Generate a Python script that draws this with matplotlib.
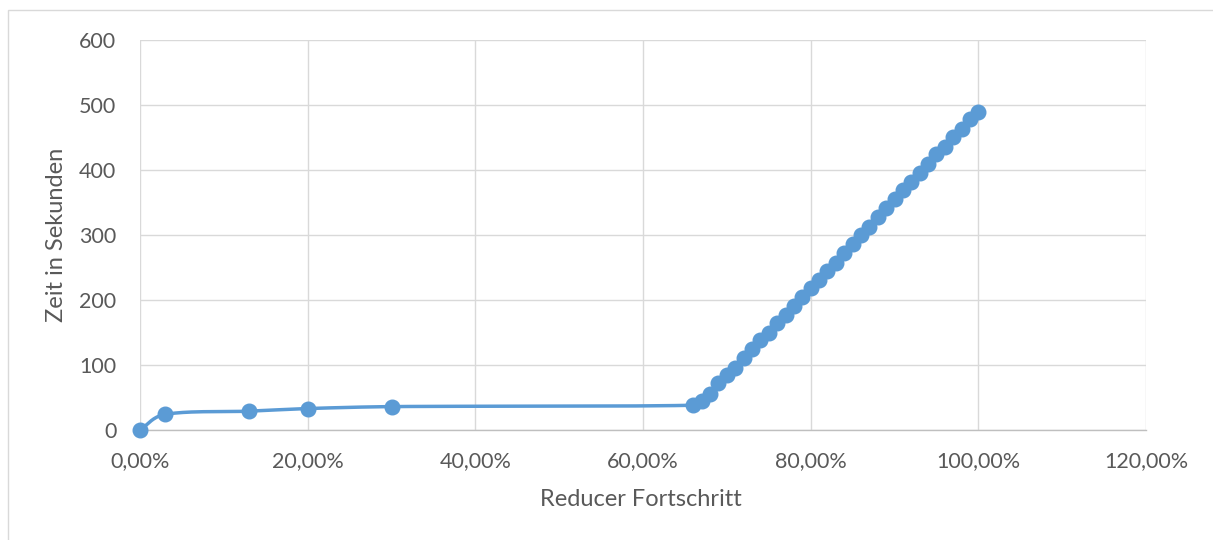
import numpy as np
import matplotlib
matplotlib.use("Agg")
import matplotlib.pyplot as plt
from matplotlib.ticker import FuncFormatter
from matplotlib.patches import Rectangle

# Reducer progress (fraction) and elapsed time in seconds
progress = [0.00, 0.03, 0.13, 0.20, 0.30,
            0.66, 0.67, 0.68, 0.69, 0.70, 0.71, 0.72, 0.73, 0.74, 0.75,
            0.76, 0.77, 0.78, 0.79, 0.80, 0.81, 0.82, 0.83, 0.84, 0.85,
            0.86, 0.87, 0.88, 0.89, 0.90, 0.91, 0.92, 0.93, 0.94, 0.95,
            0.96, 0.97, 0.98, 0.99, 1.00]
seconds = [0, 24, 29, 33, 36,
           38, 44, 56, 72, 85, 96, 111, 124, 138, 150,
           164, 177, 191, 204, 218, 231, 245, 257, 273, 286,
           300, 313, 328, 341, 355, 369, 382, 396, 410, 425,
           436, 451, 463, 478, 490]

x_ticks = [0.0, 0.2, 0.4, 0.6, 0.8, 1.0, 1.2]
y_ticks = [0, 100, 200, 300, 400, 500, 600]

LINE = "#5B9BD5"
TEXT = "#595959"
GRID = "#D9D9D9"


def smooth(xs, ys, n=30, tension=0.45):
    """Smoothed line through the points (cubic Bezier with chord-scaled tangents)."""
    sx, sy = 1.2, 600.0
    P = np.column_stack([np.asarray(xs, float) / sx, np.asarray(ys, float) / sy])
    N = len(P)
    tang = np.zeros_like(P)
    for i in range(N):
        a = P[max(i - 1, 0)]
        b = P[min(i + 1, N - 1)]
        d = b - a
        nrm = np.linalg.norm(d)
        tang[i] = d / nrm if nrm > 0 else 0
    t = np.linspace(0, 1, n, endpoint=False)[:, None]
    out = []
    for i in range(N - 1):
        p0, p3 = P[i], P[i + 1]
        L = np.linalg.norm(p3 - p0) * tension * 2 / 3
        p1 = p0 + tang[i] * L
        p2 = p3 - tang[i + 1] * L
        seg = ((1 - t) ** 3 * p0 + 3 * (1 - t) ** 2 * t * p1
               + 3 * (1 - t) * t ** 2 * p2 + t ** 3 * p3)
        out.append(seg)
    out.append(P[-1][None, :])
    C = np.vstack(out)
    return C[:, 0] * sx, C[:, 1] * sy


plt.rcParams["font.family"] = ["Lato", "DejaVu Sans"]

fig = plt.figure(figsize=(12.13, 5.40), dpi=100)
W, H = 1213, 540
ax = fig.add_axes([140 / W, 1 - 430 / H, (1146 - 140) / W, (430 - 40) / H])

# chart frame
fig.patches.append(Rectangle((8 / W, -0.01), 1.0, 1 - 10 / H + 0.01,
                             transform=fig.transFigure, fill=False,
                             edgecolor="#D9D9D9", linewidth=1.0))

cx, cy = smooth(progress, seconds)
ax.plot(cx, cy, color=LINE, linewidth=2.5, solid_capstyle="round", zorder=3)
ax.plot(progress, seconds, linestyle="none", marker="o", markersize=10.5,
        color=LINE, zorder=4, clip_on=False)

ax.set_xlim(0, 1.2)
ax.set_ylim(0, 600)
ax.set_xticks(x_ticks)
ax.set_yticks(y_ticks)
ax.xaxis.set_major_formatter(FuncFormatter(
    lambda v, _: f"{v * 100:.2f}%".replace(".", ",")))

ax.grid(True, color=GRID, linewidth=1.0)
ax.set_axisbelow(True)
for side in ("top", "right", "left"):
    ax.spines[side].set_visible(False)
ax.spines["bottom"].set_color("#BFBFBF")
ax.spines["bottom"].set_linewidth(1.0)
ax.tick_params(length=0, labelsize=15.5, colors=TEXT)
ax.tick_params(axis="x", pad=15)
ax.tick_params(axis="y", pad=17)

ax.set_xlabel("Reducer Fortschritt", fontsize=17, color=TEXT, va="center")
ax.set_ylabel("Zeit in Sekunden", fontsize=17, color=TEXT, va="center")
ax.xaxis.set_label_coords((641 - 140) / 1006, (430 - 499) / 390)
ax.yaxis.set_label_coords((57 - 140) / 1006, (430 - 235) / 390)

fig.savefig("out.png", dpi=100)
